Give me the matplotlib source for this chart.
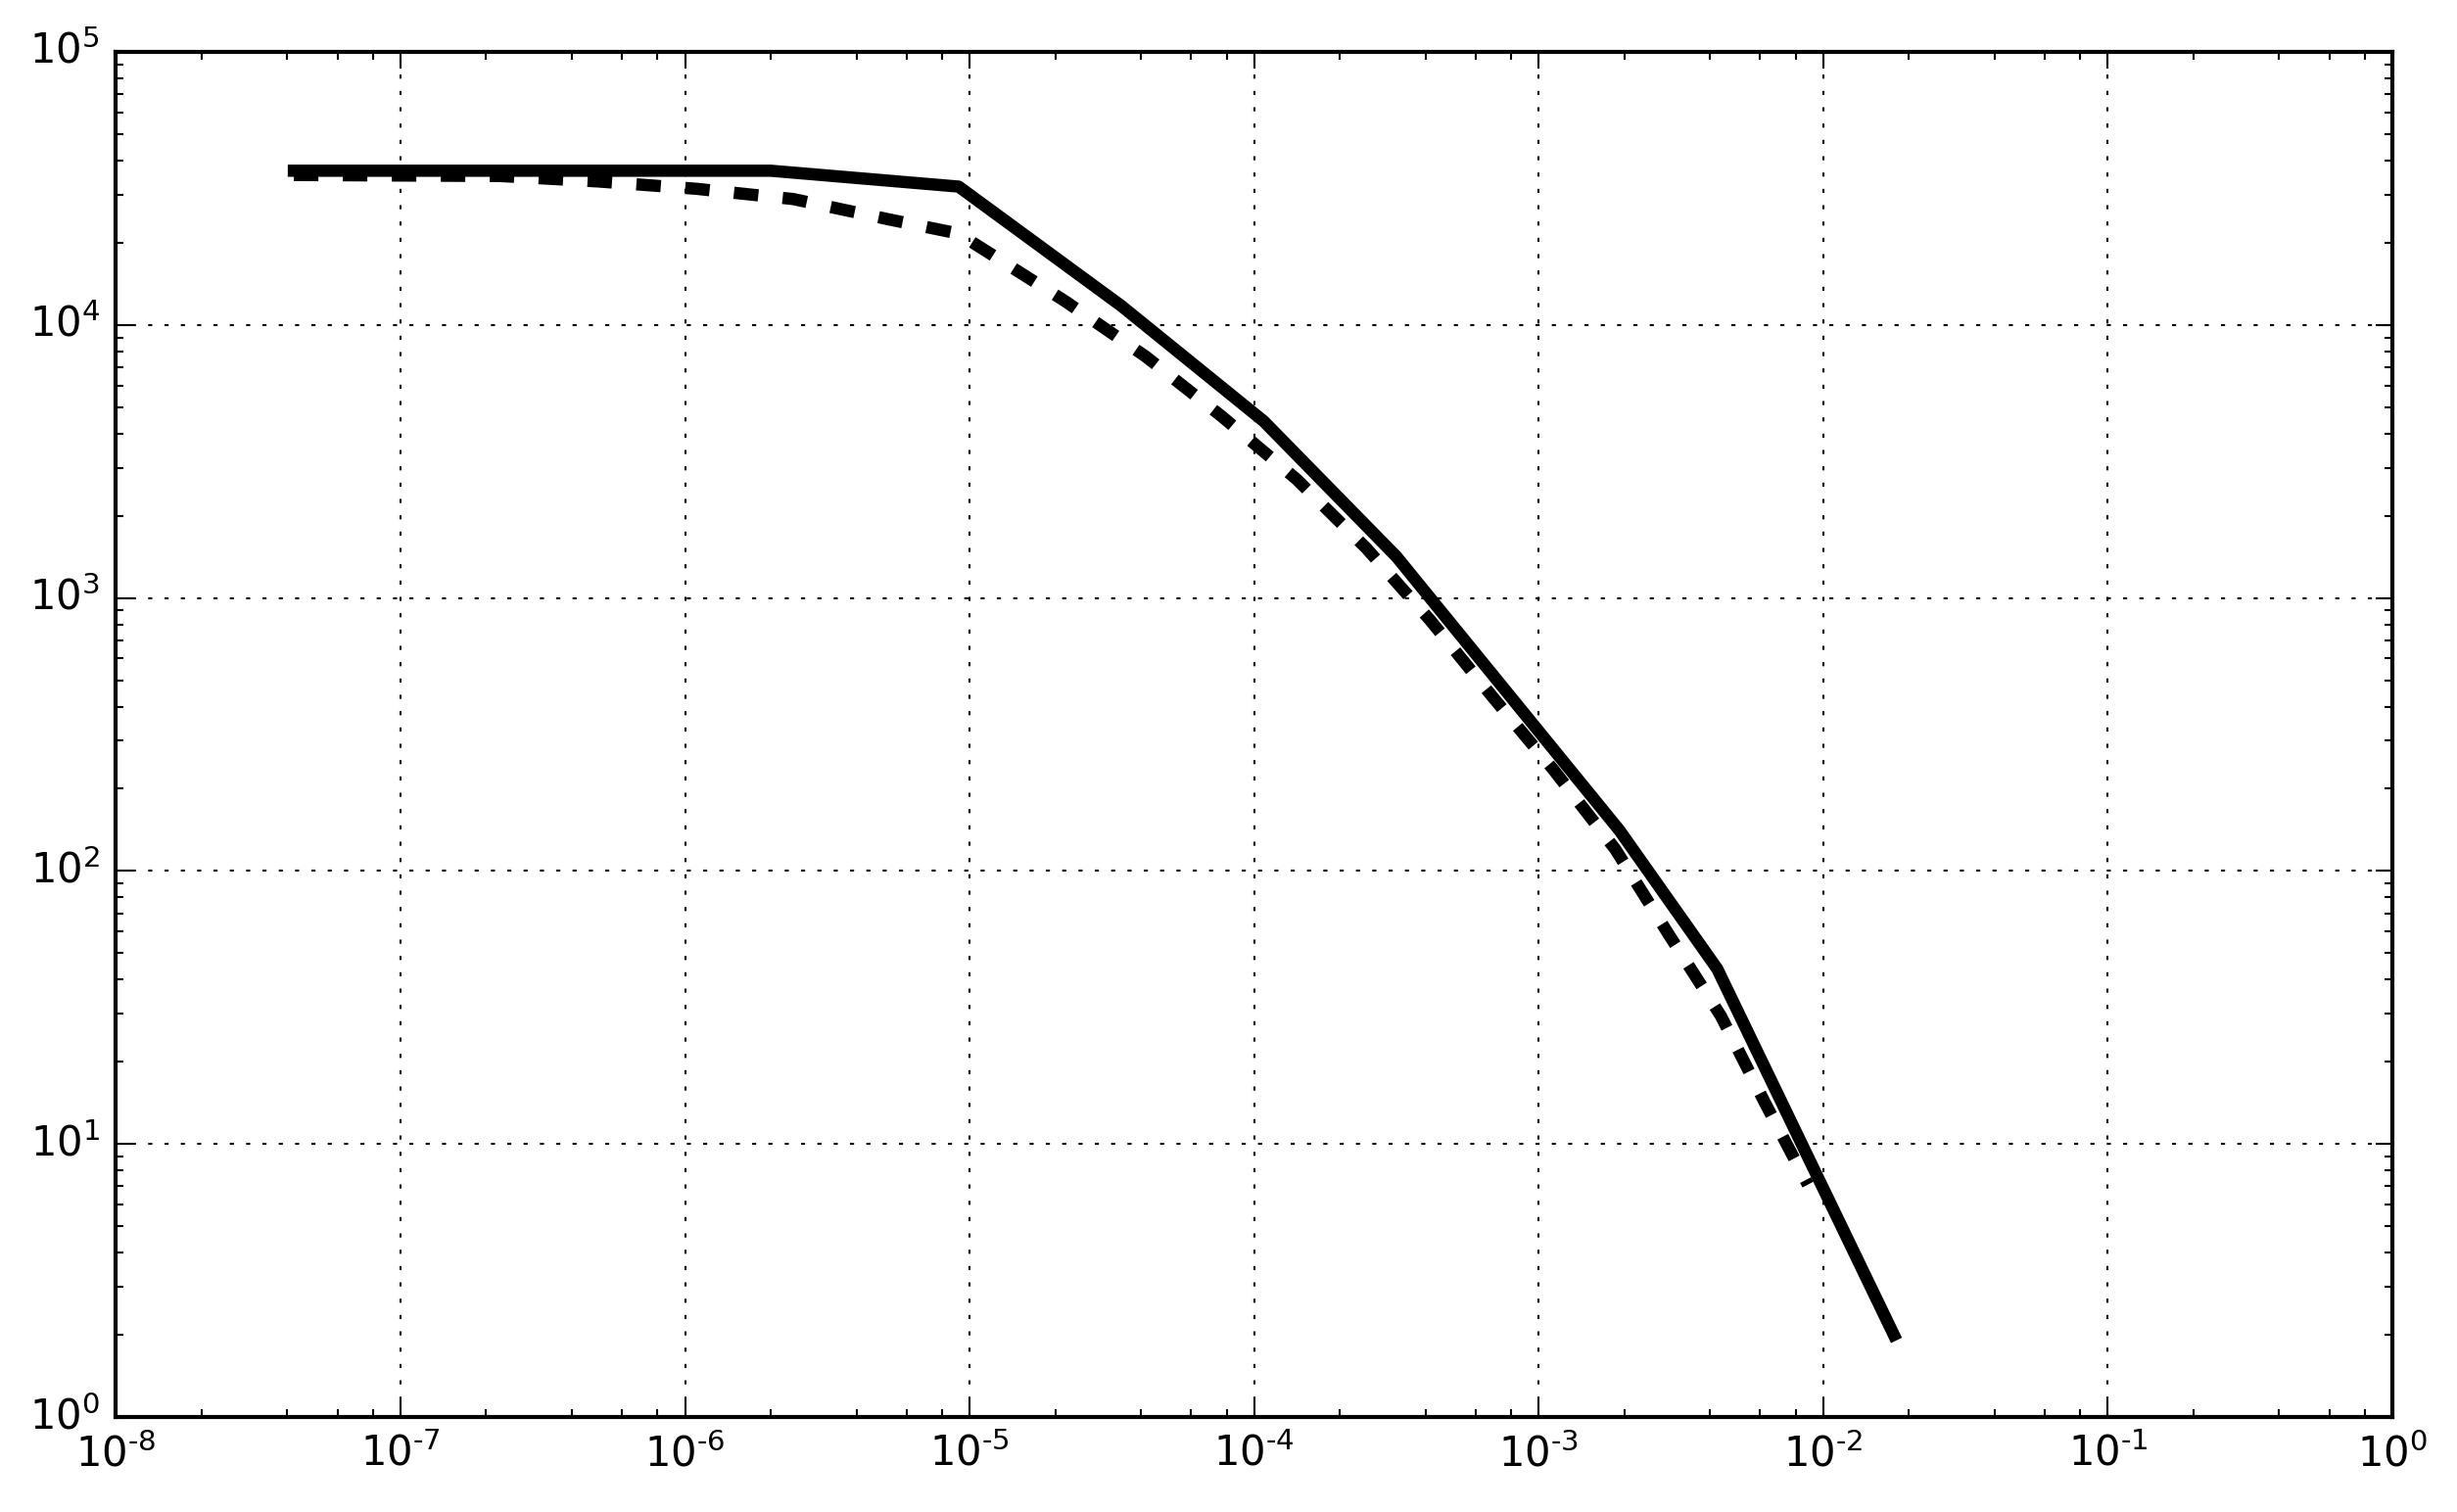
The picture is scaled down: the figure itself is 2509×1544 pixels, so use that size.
import numpy as np
import matplotlib
matplotlib.use('Agg')
import matplotlib.pyplot as plt
from matplotlib.ticker import LogLocator, FuncFormatter

plt.style.use('classic')
plt.rcParams['font.size'] = 10
plt.rcParams['figure.facecolor'] = 'white'

# solid curve
x_solid = [4.22e-8, 2.0e-6, 9.15e-6, 3.41e-5, 1.08e-4, 3.16e-4, 1.92e-3, 4.24e-3, 1.77e-2]
y_solid = [36700, 36700, 32100, 11750, 4440, 1418, 141, 43.8, 2.0]

# dashed curve
x_dashed = [4.22e-8, 2.24e-7, 5.0e-7, 1.1e-6, 2.4e-6, 5.25e-6, 9.15e-6, 2.17e-5,
            4.15e-5, 7.7e-5, 1.41e-4, 2.48e-4, 4.15e-4, 6.95e-4, 1.13e-3,
            1.86e-3, 2.85e-3, 4.37e-3, 6.25e-3, 8.83e-3]
y_dashed = [35400, 35100, 33500, 31500, 28900, 24300, 21600, 12200,
            7670, 4620, 2720, 1520, 830, 429, 234,
            120, 59, 29.4, 14.1, 7.1]

x_lim = (1e-8, 1e0)
y_lim = (1e0, 1e5)


def log_label(v, pos):
    e = int(round(np.log10(v)))
    return r'$\mathdefault{10^{%s}}$' % str(e).replace('-', '\u2010')


fig = plt.figure(figsize=(2509 / 300, 1544 / 300), dpi=300)
ax = fig.add_axes([0.0472, 0.0628, 0.9265, 0.9029])

ax.loglog(x_solid, y_solid, 'k-', lw=3)
ax.loglog(x_dashed, y_dashed, 'k--', lw=3)

ax.set_xlim(*x_lim)
ax.set_ylim(*y_lim)
ax.xaxis.set_minor_locator(LogLocator(subs=(2, 4, 6, 8), numticks=20))
ax.yaxis.set_minor_locator(LogLocator(subs=np.arange(2, 10), numticks=20))
ax.xaxis.set_major_formatter(FuncFormatter(log_label))
ax.yaxis.set_major_formatter(FuncFormatter(log_label))
ax.xaxis.set_minor_formatter(plt.NullFormatter())
ax.yaxis.set_minor_formatter(plt.NullFormatter())
ax.grid(True, which='major')

fig.savefig('out.png', dpi=300, facecolor='white')
plt.close(fig)
